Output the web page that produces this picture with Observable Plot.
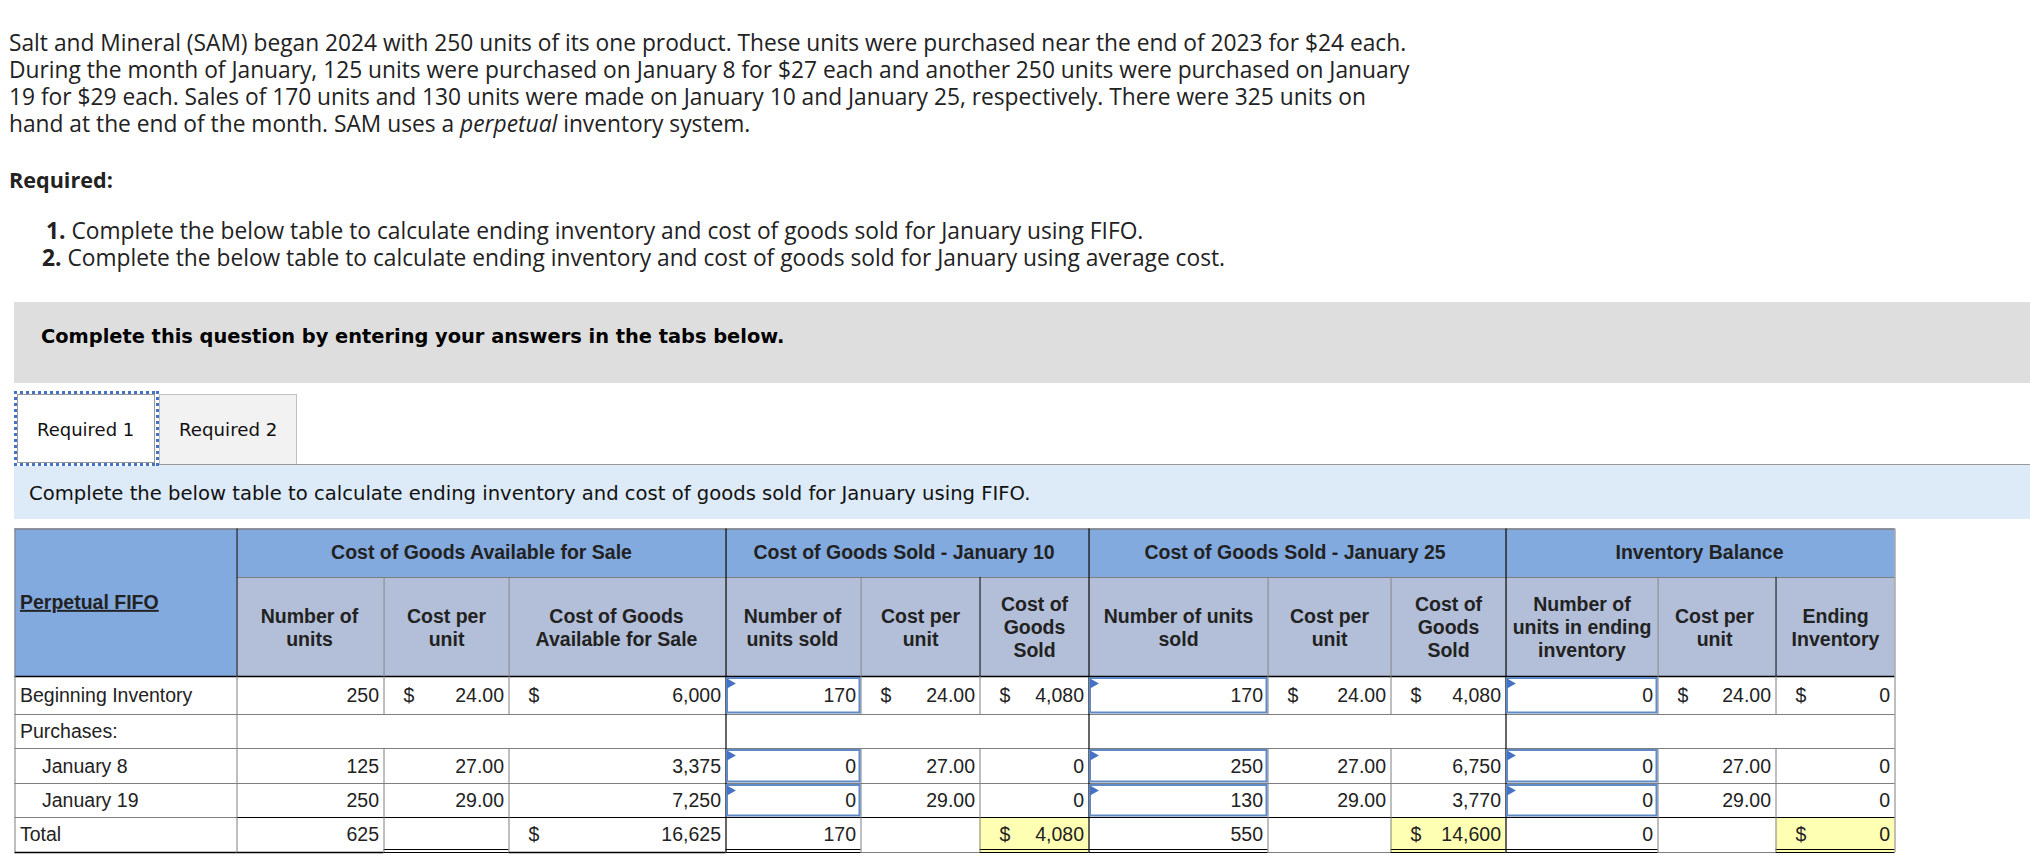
<!DOCTYPE html>
<html>
<head>
<meta charset="utf-8">
<script src="https://cdn.jsdelivr.net/npm/d3@7"></script>
<script src="https://cdn.jsdelivr.net/npm/@observablehq/plot@0.6"></script>
<style>
html,body{margin:0;padding:0;background:#fff;width:2030px;height:868px;overflow:hidden}
#page{position:relative;width:2030px;height:868px}
#page>div{position:absolute;white-space:nowrap}
.prose{font-family:"Open Sans",sans-serif;font-size:22.75px;line-height:27px;color:#222;left:9px}
.verd{font-family:"DejaVu Sans",sans-serif;color:#111}
#chart{left:0;top:520px}
#chart svg{display:block}
</style>
</head>
<body>
<div id="page">
  <div class="prose" style="top:28.5px">Salt and Mineral (SAM) began 2024 with 250 units of its one product. These units were purchased near the end of 2023 for $24 each.</div>
  <div class="prose" style="top:55.5px">During the month of January, 125 units were purchased on January 8 for $27 each and another 250 units were purchased on January</div>
  <div class="prose" style="top:82.5px">19 for $29 each. Sales of 170 units and 130 units were made on January 10 and January 25, respectively. There were 325 units on</div>
  <div class="prose" style="top:109.5px">hand at the end of the month. SAM uses a <i>perpetual</i> inventory system.</div>
  <div class="prose" style="top:166px;font-size:21.6px"><b>Required:</b></div>
  <div class="prose" style="top:217px;left:46px"><b>1.</b> Complete the below table to calculate ending inventory and cost of goods sold for January using FIFO.</div>
  <div class="prose" style="top:244px;left:42px"><b>2.</b> Complete the below table to calculate ending inventory and cost of goods sold for January using average cost.</div>

  <div style="left:14px;top:302px;width:2016px;height:81px;background:#dedede"></div>
  <div class="verd" style="left:41px;top:323px;line-height:28px;font-size:19.4px;font-weight:700;color:#000">Complete this question by entering your answers in the tabs below.</div>

  <div style="left:159px;top:394px;width:136px;height:70px;background:#f2f2f2;border:1px solid #bfbfbf;border-bottom:none"></div>
  <div style="left:158px;top:464px;width:1872px;height:1px;background:#9a9a9a"></div>
  <div style="left:14px;top:465px;width:2016px;height:54px;background:#ddeaf7"></div>
  <div style="left:14px;top:391px;width:145px;height:75px;box-sizing:border-box;background:
     repeating-linear-gradient(90deg,#4472c4 0 3px,transparent 3px 6px) top/100% 3px no-repeat,
     repeating-linear-gradient(90deg,#4472c4 0 3px,transparent 3px 6px) bottom/100% 3px no-repeat,
     repeating-linear-gradient(0deg,#4472c4 0 3px,transparent 3px 6px) left/3px 100% no-repeat,
     repeating-linear-gradient(0deg,#4472c4 0 3px,transparent 3px 6px) right/3px 100% no-repeat,#fff"></div>
  <div style="left:17px;top:394px;width:138px;height:69px;box-sizing:border-box;border:1px solid #999;background:#fff"></div>
  <div class="verd" style="left:37px;top:416px;line-height:28px;font-size:18px">Required 1</div>
  <div class="verd" style="left:179px;top:416px;line-height:28px;font-size:18.2px">Required 2</div>
  <div class="verd" style="left:29px;top:480px;line-height:28px;font-size:19.6px">Complete the below table to calculate ending inventory and cost of goods sold for January using FIFO.</div>
  <div id="chart"></div>
</div>
<script>
// ---------- values ----------
const rowLabels = ["Beginning Inventory", "Purchases:", "January 8", "January 19", "Total"];
const groupHeaders = ["Cost of Goods Available for Sale", "Cost of Goods Sold - January 10", "Cost of Goods Sold - January 25", "Inventory Balance"];
const cornerHeader = "Perpetual FIFO";
const subHeaders = [
  "Number of\nunits", "Cost per\nunit", "Cost of Goods\nAvailable for Sale",
  "Number of\nunits sold", "Cost per\nunit", "Cost of\nGoods\nSold",
  "Number of units\nsold", "Cost per\nunit", "Cost of\nGoods\nSold",
  "Number of\nunits in ending\ninventory", "Cost per\nunit", "Ending\nInventory"
];
const availUnits = [250, null, 125, 250, 625];
const availCost  = [24, null, 27, 29, null];
const availTotal = [6000, null, 3375, 7250, 16625];
const sold10Units = [170, null, 0, 0, 170];
const sold10Cost  = [24, null, 27, 29, null];
const sold10Total = [4080, null, 0, 0, 4080];
const sold25Units = [170, null, 250, 130, 550];
const sold25Cost  = [24, null, 27, 29, null];
const sold25Total = [4080, null, 6750, 3770, 14600];
const endUnits = [0, null, 0, 0, 0];
const endCost  = [24, null, 27, 29, null];
const endTotal = [0, null, 0, 0, 0];
const seriesByColumn = [availUnits, availCost, availTotal, sold10Units, sold10Cost, sold10Total,
                        sold25Units, sold25Cost, sold25Total, endUnits, endCost, endTotal];

// ---------- table layout (page pixels), separate from the values ----------
const colEdges = [14.5, 236.5, 383.5, 508.5, 725.5, 860.5, 979.5, 1088.5, 1267.5, 1390.5, 1505.5, 1657.5, 1775.5, 1894.5];
const headEdges = [528.5, 577, 676];
const rowEdges = [676, 714, 748, 783, 817, 852];
const groupSpans = [[1, 4], [4, 7], [7, 10], [10, 13]];
const groupNudge = [0, -3.5, -2.5, -1];
const subNudge = [-1, 0, -1, -1, 0, 0, 0, 0, 0, 0, -2.5, 0];
const kinds = ["units", "cost", "total", "units", "cost", "total", "units", "cost", "total", "units", "cost", "total"];
const inputColumns = [3, 6, 9];
const inputRows = [0, 2, 3];
const textColor = "#222";
const font = "'Liberation Sans',Arial,sans-serif";
const fs = 19.5;
const rowNudge = [-0.8, -0.8, -0.8, -0.8, -1.6];
const rowMid = r => (rowEdges[r] + rowEdges[r + 1]) / 2 + rowNudge[r];

// ---------- derived tables ----------
const fmt = (v, k) => k === "cost" ? d3.format(".2f")(v) : d3.format(",")(v);
const cells = [];
const dollars = [];
seriesByColumn.forEach((vals, c) => vals.forEach((v, r) => {
  if (v === null) return;
  const k = kinds[c];
  cells.push({t: fmt(v, k), x: colEdges[c + 2] - 5, y: rowMid(r)});
  if ((k === "cost" && r === 0) || (k === "total" && (r === 0 || r === 4)))
    dollars.push({t: "$", x: colEdges[c + 1] + 25, y: rowMid(r)});
}));
const labels = rowLabels.map((t, r) => ({t, x: colEdges[0] + ((r === 2 || r === 3) ? 27 : 5), y: rowMid(r)}));
const groupCells = groupHeaders.map((t, i) => ({t, x1: colEdges[groupSpans[i][0]], x2: colEdges[groupSpans[i][1]], y1: headEdges[0], y2: headEdges[1], dx: groupNudge[i], dy: -1.5}));
const subCells = subHeaders.map((t, c) => ({t, x1: colEdges[c + 1], x2: colEdges[c + 2], y1: headEdges[1], y2: headEdges[2], dx: subNudge[c], dy: t.split("\n").length === 2 ? 0 : -0.2}));
const inputs = inputColumns.flatMap(c => inputRows.map(r => ({x1: colEdges[c + 1] + 1.5, x2: colEdges[c + 2] - 1, y1: rowEdges[r] + 2, y2: rowEdges[r + 1] - 1.5})));
const flags = inputs.map(d => ({x: d.x1 + 2.5, y: d.y1 + 5}));
const yellow = [5, 8, 11].map(c => ({x1: colEdges[c + 1], x2: colEdges[c + 2], y1: rowEdges[4], y2: rowEdges[5]}));

const gray = "#7f7f7f", black = "#000";
const bottomDouble = [[2, 3], [4, 5], [6, 7], [7, 8], [9, 10], [10, 11], [12, 13]];
const bottomSingle = [[0, 1], [1, 2], [3, 4]];
const bottomGray = [[5, 6], [8, 9], [11, 12]];
const hRules = [
  {y: headEdges[0], x1: colEdges[0], x2: colEdges[13], s: gray, w: 1.5},
  {y: headEdges[1], x1: colEdges[1], x2: colEdges[13], s: gray, w: 1},
  {y: headEdges[2], x1: colEdges[0], x2: colEdges[13], s: black, w: 1.5},
  {y: rowEdges[1], x1: colEdges[0], x2: colEdges[13], s: gray, w: 1},
  {y: rowEdges[2], x1: colEdges[0], x2: colEdges[13], s: gray, w: 1},
  {y: rowEdges[3], x1: colEdges[0], x2: colEdges[13], s: gray, w: 1},
  {y: rowEdges[4], x1: colEdges[0], x2: colEdges[1], s: gray, w: 1},
  {y: rowEdges[4], x1: colEdges[1], x2: colEdges[13], s: black, w: 1},
  ...bottomSingle.map(([a, b]) => ({y: rowEdges[5], x1: colEdges[a], x2: colEdges[b], s: black, w: 1.5})),
  ...bottomGray.map(([a, b]) => ({y: rowEdges[5], x1: colEdges[a], x2: colEdges[b], s: gray, w: 1.2})),
  ...bottomDouble.flatMap(([a, b]) => [
    {y: rowEdges[5] - 3, x1: colEdges[a], x2: colEdges[b], s: black, w: 1},
    {y: rowEdges[5], x1: colEdges[a], x2: colEdges[b], s: black, w: 1.2}
  ])
];
const vRules = [
  {x: colEdges[0], y1: headEdges[0], y2: rowEdges[5], s: gray, w: 1},
  {x: colEdges[1], y1: headEdges[0], y2: headEdges[2], s: black, w: 1},
  {x: colEdges[1], y1: headEdges[2], y2: rowEdges[5], s: gray, w: 1},
  ...[4, 7, 10].map(c => ({x: colEdges[c], y1: headEdges[0], y2: rowEdges[5], s: black, w: 1.2})),
  {x: colEdges[13], y1: headEdges[0], y2: rowEdges[5], s: gray, w: 1},
  ...[2, 3, 5, 6, 8, 9, 11, 12].flatMap(c => [
    {x: colEdges[c], y1: headEdges[1], y2: headEdges[2], s: (c === 6 || c === 12) ? black : gray, w: 1},
    {x: colEdges[c], y1: rowEdges[0], y2: rowEdges[1], s: gray, w: 1},
    {x: colEdges[c], y1: rowEdges[2], y2: rowEdges[5], s: gray, w: 1}
  ])
];

const textBase = {x: "x", y: "y", text: "t", fontFamily: font, fontSize: fs, fill: textColor, lineHeight: 1.18};
const headText = {x: d => (d.x1 + d.x2) / 2 + d.dx, y: d => (d.y1 + d.y2) / 2 + d.dy, text: "t", fontFamily: font, fontSize: fs, fontWeight: 700, fill: textColor, lineHeight: 1.18};

const chart = Plot.plot({
  width: 2030, height: 348,
  marginTop: 0, marginRight: 0, marginBottom: 0, marginLeft: 0,
  x: {type: "linear", domain: [0, 2030], range: [0, 2030], axis: null},
  y: {type: "linear", domain: [520, 868], range: [0, 348], axis: null},
  style: {background: "transparent", overflow: "visible"},
  marks: [
    Plot.rect([{x1: colEdges[0], x2: colEdges[1], y1: headEdges[0], y2: headEdges[2]}], {x1: "x1", x2: "x2", y1: "y1", y2: "y2", fill: "#82aadf"}),
    Plot.rect(groupCells, {x1: "x1", x2: "x2", y1: "y1", y2: "y2", fill: "#82aadf"}),
    Plot.rect(subCells, {x1: "x1", x2: "x2", y1: "y1", y2: "y2", fill: "#b3bfd8"}),
    Plot.rect(yellow, {x1: "x1", x2: "x2", y1: "y1", y2: "y2", fill: "#ffffb3"}),
    Plot.ruleY(hRules, {y: "y", x1: "x1", x2: "x2", stroke: "s", strokeWidth: "w"}),
    Plot.ruleX(vRules, {x: "x", y1: "y1", y2: "y2", stroke: "s", strokeWidth: "w"}),
    Plot.rect(inputs, {x1: "x1", x2: "x2", y1: "y1", y2: "y2", fill: "#fff", stroke: "#5f8ac6", strokeWidth: 2}),
    Plot.dot(flags, {x: "x", y: "y", symbol: "triangle", r: 3.8, rotate: 90, fill: "#4472c4"}),
    Plot.text(groupCells, headText),
    Plot.text(subCells, headText),
    Plot.text([{t: cornerHeader, x: colEdges[0] + 5, y: 601}], {...textBase, fontWeight: 700, textAnchor: "start"}),
    Plot.text(labels, {...textBase, textAnchor: "start"}),
    Plot.text(dollars, {...textBase, textAnchor: "middle"}),
    Plot.text(cells, {...textBase, textAnchor: "end"})
  ]
});
d3.select(chart).selectAll("text").filter(function () { return this.textContent === cornerHeader; }).style("text-decoration", "underline");
document.getElementById("chart").appendChild(chart);
</script>
</body>
</html>
